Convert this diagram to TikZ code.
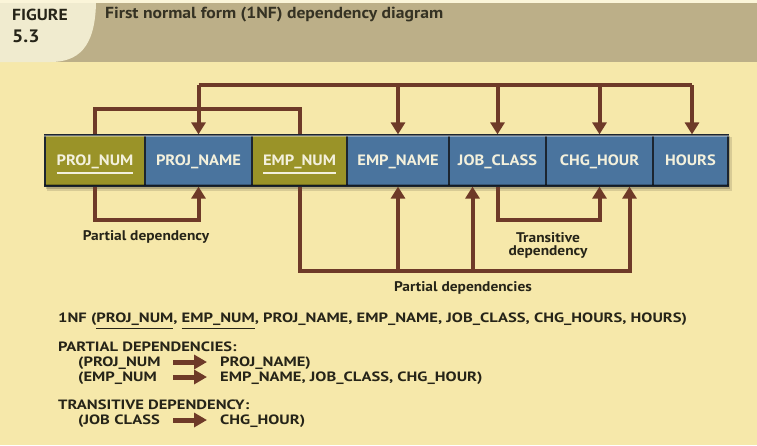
\documentclass[tikz,border=0pt]{standalone}
\usepackage{fontspec}
\setmainfont{PT Sans}[FakeStretch=1.1]
\newfontfamily\widefont{PT Sans}[FakeStretch=1.225]
\usetikzlibrary{arrows.meta,calc}

\definecolor{paper}{HTML}{F6E8AA}
\definecolor{band}{HTML}{BCAF88}
\definecolor{cream}{HTML}{F0EBCF}
\definecolor{olive}{HTML}{9A9328}
\definecolor{steel}{HTML}{4A749E}
\definecolor{rust}{HTML}{6E3A28}
\definecolor{ink}{HTML}{262418}
\definecolor{celltext}{HTML}{F3F0DC}
\definecolor{divider}{HTML}{1C2530}

% underline a key attribute with a bar of given depth and thickness
\newcommand\keybar[3]{\setbox0\hbox{#1}\rlap{\smash{\rule[-#2]{\wd0}{#3}}}\box0}

\begin{document}
\begin{tikzpicture}[x=1pt,y=-1pt,
  cell/.style={draw=divider, line width=1.2pt, minimum height=51pt, inner sep=0pt,
    text=celltext, font=\bfseries\fontsize{15}{17}\selectfont,
    text height=10.5pt, text depth=0pt},
  keycell/.style={cell, fill=olive},
  plaincell/.style={cell, fill=steel},
  conn/.style={draw=rust, line width=4pt},
  tip/.style={-{Triangle[width=14pt,length=12pt]}},
  note/.style={text=ink, font=\bfseries\fontsize{14}{15}\selectfont, inner sep=0pt, align=center},
  txt/.style={text=ink, font=\widefont\bfseries\fontsize{13.5}{15}\selectfont, inner sep=0pt,
    text height=9.4pt, text depth=0pt},
  fat/.style={draw=rust, line width=5pt, -{Triangle[width=14pt,length=13pt]},
    shorten <=3pt, shorten >=13pt}]
\useasboundingbox (0,0) rectangle (757,445);

% page and header band
\fill[paper] (0,0) rectangle (757,445);
\fill[white!55!paper] (0,0) rectangle (757,3);
\fill[band] (0,3) rectangle (757,62);
\fill[cream] (0,3) -- (96,3) .. controls (95,48) and (78,62) .. (50,62) -- (0,62) -- cycle;
\node[anchor=west, inner sep=0pt, text=ink, font=\bfseries\fontsize{16}{18}\selectfont] (fig) at (12,15) {FIGURE};
\node[anchor=west, inner sep=0pt, text=ink, font=\bfseries\fontsize{18}{20}\selectfont] (fignum) at (12,36) {5.3};
\node[anchor=west, inner sep=0pt, text=ink!90!band, font=\bfseries\fontsize{16}{18}\selectfont] (title) at (105,15) {First normal form (1NF) dependency diagram};

% drop shadow of the attribute row
\fill[black, opacity=.12] (47,137) rectangle (732,191);
\fill[black, opacity=.18] (46,136) rectangle (730,189);

% attribute row
\node[keycell,   minimum width=100pt] (pnum)  at (95,160.5)  {\keybar{PROJ\_NUM}{8pt}{2pt}};
\node[plaincell, minimum width=107pt] (pname) at (198.5,160.5) {PROJ\_NAME};
\node[keycell,   minimum width=95pt]  (enum)  at (299.5,160.5) {\keybar{EMP\_NUM}{8pt}{2pt}};
\node[plaincell, minimum width=102pt] (ename) at (398,160.5)  {EMP\_NAME};
\node[plaincell, minimum width=97pt]  (jc)    at (497.5,160.5) {JOB\_CLASS};
\node[plaincell, minimum width=107pt] (ch)    at (599.5,160.5) {CHG\_HOUR};
\node[plaincell, minimum width=75pt]  (hours) at (690.5,160.5) {HOURS};

% bevel highlights
\draw[white, opacity=.35, line width=2pt] ([yshift=-1.5pt]pnum.north west) -- ([yshift=-1.5pt]hours.north east);
\draw[black, opacity=.25, line width=2pt] ([yshift=1.5pt]pnum.south west) -- ([yshift=1.5pt]hours.south east);

% determinant bars
\coordinate (keybus) at (0,109);
\coordinate (fullbus) at (0,85);
\coordinate (partbus) at (0,220);
\coordinate (lowbus) at (0,271);

% full dependency on the composite key
\draw[conn] (pnum.north) -- (pnum.north |- keybus) -- (enum.north |- keybus) -- (enum.north);
\draw[conn] (pname.north |- fullbus) -- ([xshift=1.5pt]hours.north |- fullbus);
\draw[conn, tip] (pname.north |- fullbus) -- (pname.north);
\draw[conn, tip] (ename.north |- fullbus) -- (ename.north);
\draw[conn, tip] (jc.north |- fullbus) -- (jc.north);
\draw[conn, tip] (ch.north |- fullbus) -- (ch.north);
\draw[conn, tip] ([xshift=1.5pt]hours.north |- fullbus) -- ([xshift=1.5pt]hours.north);

% partial dependency PROJ_NUM -> PROJ_NAME
\draw[conn, tip] (pnum.south) -- (pnum.south |- partbus) -| (pname.south);
\node[note] (plabel) at (146,237) {Partial dependency};

% transitive dependency JOB_CLASS -> CHG_HOUR
\draw[conn, tip] (jc.south) -- (jc.south |- partbus) -| (ch.south);
\node[note] (tlabel) at (548,245) {Transitive\\[-2pt]dependency};

% partial dependencies EMP_NUM -> EMP_NAME, JOB_CLASS, CHG_HOUR
\draw[conn, tip] (enum.south) -- (enum.south |- lowbus) -| ([xshift=30pt]ch.south);
\draw[conn, tip] (ename.south |- lowbus) -- (ename.south);
\draw[conn, tip] ([xshift=-25pt]jc.south |- lowbus) -- ([xshift=-25pt]jc.south);
\node[note] (pslabel) at (463,288) {Partial dependencies};

% relational schema and dependency lists
\node[txt, anchor=west] (schema) at (58,318)
  {1NF (\keybar{PROJ\_NUM}{6.5pt}{1.4pt}, \keybar{EMP\_NUM}{6.5pt}{1.4pt}, PROJ\_NAME, EMP\_NAME, JOB\_CLASS, CHG\_HOURS, HOURS)};
\node[txt, anchor=west] (ph) at (58,347) {PARTIAL DEPENDENCIES:};
\node[txt, anchor=west, text width=92pt, align=left] (p1l) at (78,362) {(PROJ\_NUM};
\node[txt, anchor=west] (p1r) at (220,362) {PROJ\_NAME)};
\node[txt, anchor=west, text width=92pt, align=left] (p2l) at (78,377) {(EMP\_NUM};
\node[txt, anchor=west] (p2r) at (220,377) {EMP\_NAME, JOB\_CLASS, CHG\_HOUR)};
\node[txt, anchor=west] (th) at (58,405) {TRANSITIVE DEPENDENCY:};
\node[txt, anchor=west, text width=92pt, align=left] (t1l) at (78,420) {(JOB CLASS};
\node[txt, anchor=west] (t1r) at (220,420) {CHG\_HOUR)};
\draw[fat] (p1l.east) -- (p1r.west);
\draw[fat] (p2l.east) -- (p2r.west);
\draw[fat] (t1l.east) -- (t1r.west);
\end{tikzpicture}
\end{document}
